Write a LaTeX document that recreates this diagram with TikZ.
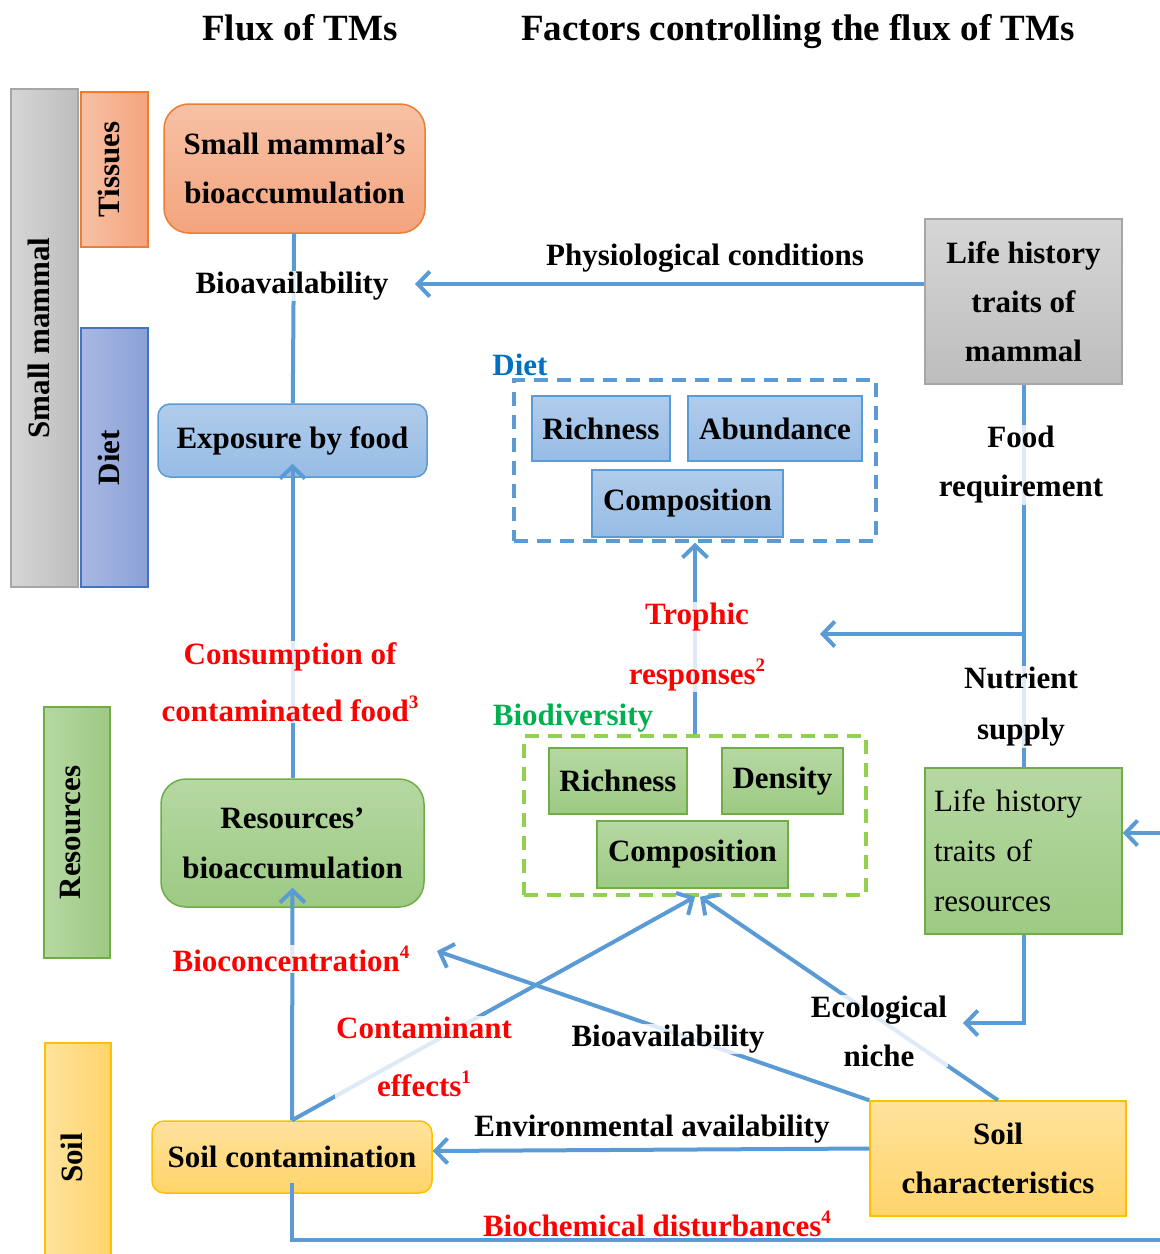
\documentclass[tikz,border=0pt]{standalone}
\usepackage{fontspec}
\setmainfont{Liberation Serif}
\usetikzlibrary{arrows.meta}

\definecolor{lineblue}{HTML}{5B9BD5}
\definecolor{grydraw}{HTML}{A6A6A6}
\definecolor{grytop}{HTML}{D6D6D6}
\definecolor{grybot}{HTML}{BDBDBD}
\definecolor{orgdraw}{HTML}{ED7D31}
\definecolor{orgtop}{HTML}{F7C1A5}
\definecolor{orgbot}{HTML}{F4A47E}
\definecolor{bluedraw}{HTML}{5B9BD5}
\definecolor{bluetop}{HTML}{B0CCEB}
\definecolor{bluebot}{HTML}{97BCE5}
\definecolor{dbdraw}{HTML}{4472C4}
\definecolor{dbleft}{HTML}{A9B8E3}
\definecolor{dbright}{HTML}{8AA1D6}
\definecolor{grndraw}{HTML}{70AD47}
\definecolor{grntop}{HTML}{B6D8A3}
\definecolor{grnbot}{HTML}{9DCA83}
\definecolor{ylwdraw}{HTML}{FFC000}
\definecolor{ylwtop}{HTML}{FFE29C}
\definecolor{ylwbot}{HTML}{FFD46A}
\definecolor{dashgreen}{HTML}{92D050}
\definecolor{txtblue}{HTML}{0070C0}
\definecolor{txtgreen}{HTML}{00B050}
\definecolor{txtred}{HTML}{FF0000}

\newcommand{\lblfont}[1]{\fontsize{31}{#1}\selectfont\bfseries}
\newcommand{\sups}[1]{\raisebox{13pt}{\fontsize{19}{19}\selectfont #1}}
\newcommand{\sidetext}[1]{\hspace*{-12pt}\rotatebox{90}{#1}}

\begin{document}
\begin{tikzpicture}[x=1pt,y=-1pt,
    font=\lblfont{37},
    >={Straight Barb[length=12pt,width=25pt]},
    wh/.style 2 args={minimum width=#1pt,minimum height=#2pt},
    box/.style={draw,line width=1.5pt,inner sep=0pt,align=center},
    grybox/.style={box,draw=grydraw,top color=grytop,bottom color=grybot},
    orgbox/.style={box,draw=orgdraw,top color=orgtop,bottom color=orgbot},
    bluebox/.style={box,draw=bluedraw,top color=bluetop,bottom color=bluebot},
    grnbox/.style={box,draw=grndraw,top color=grntop,bottom color=grnbot},
    ylwbox/.style={box,draw=ylwdraw,top color=ylwtop,bottom color=ylwbot},
    sidebar/.style n args={3}{box,draw=#1,left color=#2,right color=#3},
    dashbox/.style={draw=#1,line width=3.5pt,dash pattern=on 14pt off 9pt,inner sep=0pt},
    conn/.style={draw=lineblue,line width=4pt},
    lbl/.style={fill=white,fill opacity=.8,text opacity=1,inner sep=1pt,align=center}]
    \useasboundingbox (0,0) rectangle (1160,1254);

    \node[anchor=base,font=\fontsize{37}{44}\selectfont\bfseries] (flux) at (300,40) {Flux of TMs};
    \node[anchor=base,font=\fontsize{37}{44}\selectfont\bfseries] (factors) at (798,40) {Factors controlling the flux of TMs};

    \node[sidebar={grydraw}{grytop}{grybot},wh={67}{498}] (smbar) at (44.5,338) {\sidetext{Small mammal}};
    \node[sidebar={orgdraw}{orgtop}{orgbot},wh={67}{155}] (tisbar) at (114.5,169.5) {\sidetext{Tissues}};
    \node[sidebar={dbdraw}{dbleft}{dbright},wh={67}{259}] (dietbar) at (114.5,457.5) {\sidetext{Diet}};
    \node[sidebar={grndraw}{grntop}{grnbot},wh={66}{251}] (resbar) at (77,832.5) {\sidetext{Resources}};
    \node[sidebar={ylwdraw}{ylwtop}{ylwbot},wh={66}{230}] (soilbar) at (78,1158) {\sidetext{Soil}};

    \node[orgbox,rounded corners=25pt,wh={261}{129},font=\lblfont{49}] (bioacc) at (294.5,168.5) {Small mammal’s\\bioaccumulation};
    \node[bluebox,rounded corners=12pt,wh={269}{73}] (expo) at (292.5,440.5) {Exposure by food};
    \node[grnbox,rounded corners=25pt,wh={263}{128},font=\lblfont{50}] (resacc) at (292.5,843) {Resources’\\bioaccumulation};
    \node[ylwbox,rounded corners=12pt,wh={280}{72}] (soilcont) at (292,1157) {Soil contamination};

    \node[grybox,wh={197}{165},font=\lblfont{49}] (lhm) at (1023.5,301.5) {Life history\\traits of\\mammal};
    \node[grnbox,wh={197}{166},inner xsep=9pt,text width=179pt,align=left,font=\fontsize{31}{50}\selectfont] (lhr) at (1023.5,851) {Life history\\traits of\\resources};
    \node[ylwbox,wh={256}{115},font=\lblfont{49}] (soilchar) at (998,1158.5) {Soil\\characteristics};

    \node[bluebox,wh={138}{65}] (dietrich) at (601,428.5) {Richness};
    \node[bluebox,wh={174}{65}] (dietabun) at (775,428.5) {Abundance};
    \node[bluebox,wh={191}{67}] (dietcomp) at (687.5,503.5) {Composition};
    \node[dashbox=lineblue,wh={362}{161}] (dietbox) at (695,460.5) {};
    \node[text=txtblue] (dietlbl) at (520,365) {Diet};

    \node[grnbox,wh={138}{66}] (biorich) at (618,781) {Richness};
    \node[grnbox,wh={121}{66}] (biodens) at (782.5,781) {Density};
    \node[grnbox,wh={191}{67}] (biocomp) at (692.5,854.5) {Composition};
    \node[dashbox=dashgreen,wh={342}{159}] (biobox) at (695,815.5) {};
    \node[text=txtgreen] (biolbl) at (573,718) {Biodiversity};

    \coordinate (physend) at (415,284);
    \coordinate (trophend) at (820,634);
    \coordinate (ecoend) at (963,1023);
    \coordinate (bioconend) at (437,951);
    \coordinate (eastout) at (1160,1240);
    \coordinate (eastin) at (1160,833);

    \draw[conn] (bioacc) -- (expo);
    \draw[conn,->] ([yshift=17.5pt]lhm.west) -- (physend);
    \draw[conn,->] (resacc.north) -- ([yshift=14pt]expo.south);
    \draw[conn,->] (soilcont.north) -- ([yshift=20pt]resacc.south);
    \draw[conn] ([yshift=11pt]soilcont.south) |- (eastout);
    \draw[conn,->] (eastin) -- (eastin -| lhr.east);
    \draw[conn] (lhm) -- (lhr);
    \draw[conn,->] (lhm.south |- trophend) -- (trophend);
    \draw[conn,->] (lhr.south) |- (ecoend);
    \draw[conn,->] (biobox.north) -- (dietbox.south);
    \draw[conn,->] (soilcont.north) -- (biobox.south);
    \draw[conn,->] (soilchar.north) -- ([xshift=5pt]biobox.south);
    \draw[conn,->] (soilchar.north west) -- (bioconend);
    \draw[conn,->] ([yshift=10pt]soilchar.west) -- ([yshift=6pt]soilcont.east);

    \node[lbl] (bioav1) at (292,286) {Bioavailability};
    \node (phys) at (705,258) {Physiological conditions};
    \node[lbl,font=\lblfont{49}] (foodreq) at (1021,465) {Food\\requirement};
    \node[lbl,font=\lblfont{51}] (nutr) at (1021,707) {Nutrient\\supply};
    \node[lbl,text=txtred,font=\lblfont{60}] (troph) at (697,647) {Trophic\\responses\sups{2}};
    \node[lbl,text=txtred,font=\lblfont{57}] (consum) at (290,682) {Consumption of\\contaminated food\sups{3}};
    \node[lbl,text=txtred] (biocon) at (291,959) {Bioconcentration\sups{4}};
    \node[lbl,text=txtred,font=\lblfont{58}] (contam) at (424,1057) {Contaminant\\effects\sups{1}};
    \node[lbl] (bioav2) at (668,1039) {Bioavailability};
    \node[lbl,font=\lblfont{49}] (econiche) at (879,1031) {Ecological\\niche};
    \node[lbl] (envav) at (652,1129) {Environmental availability};
    \node[text=txtred] (biochem) at (657,1224) {Biochemical disturbances\sups{4}};
\end{tikzpicture}
\end{document}
